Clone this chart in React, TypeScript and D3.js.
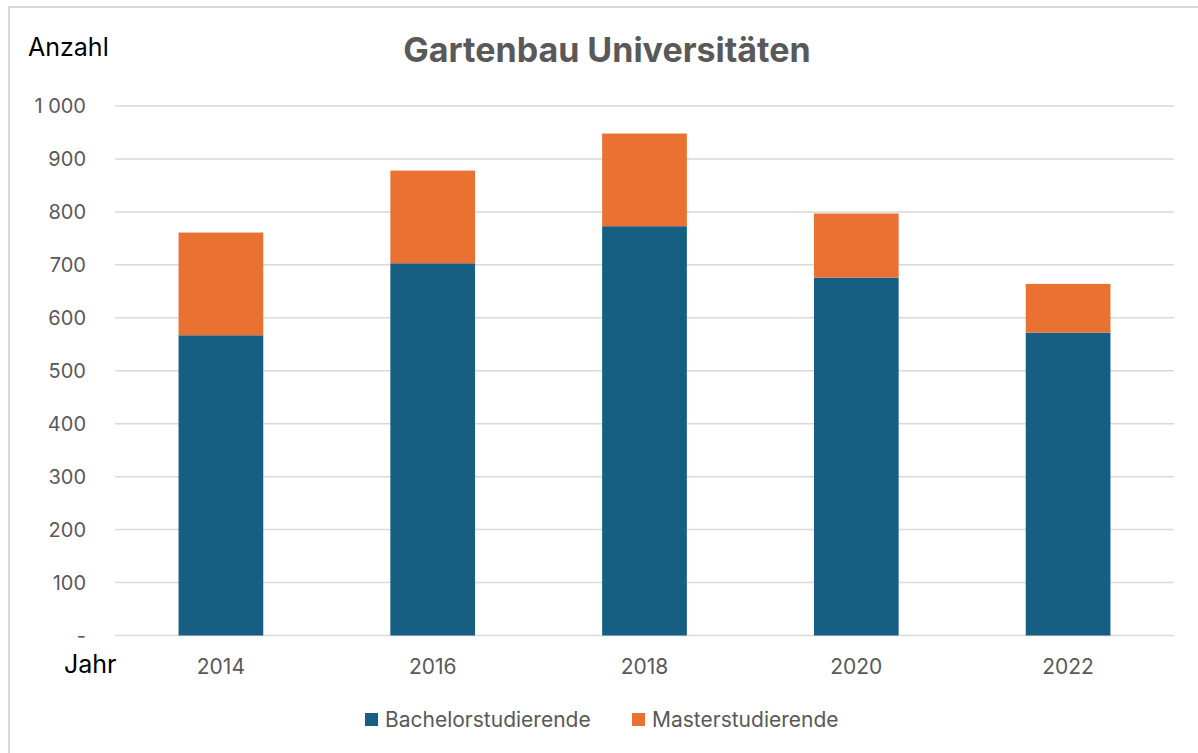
import React from "react";
import * as d3 from "d3";

const years = ["2014", "2016", "2018", "2020", "2022"];
const bachelor = [567, 703, 773, 676, 572];
const master = [194, 175, 175, 121, 92];
const yTicks = [0, 100, 200, 300, 400, 500, 600, 700, 800, 900, 1000];
const seriesNames = ["Bachelorstudierende", "Masterstudierende"];
const colors = ["#175f82", "#e97132"];

const W = 1198;
const H = 753;
const FONT = "Inter, 'Open Sans', sans-serif";

export default function App() {
  const x = d3.scaleBand<string>().domain(years).range([115, 1174]).paddingInner(0.6).paddingOuter(0.3);
  const y = d3.scaleLinear().domain([0, 1000]).range([635.5, 106]);
  const rows = years.map((yr, i) => ({ year: yr, b: bachelor[i], m: master[i] }));
  const stack = d3.stack<any>().keys(["b", "m"])(rows);
  const fmt = (v: number) => (v === 0 ? "-" : d3.format(",")(v).replace(",", " "));

  return (
    <div style={{ position: "fixed", left: 0, top: 0 }}>
      <svg width={W} height={H} style={{ display: "block", background: "#fff" }}>
        <rect x={9} y={7} width={W + 10} height={H + 10} fill="#fff" stroke="#d9d9d9" strokeWidth={2} />
        <text x={607} y={62} textAnchor="middle" fontFamily={FONT} fontWeight={700} fontSize={34} fill="#595959">
          Gartenbau Universitäten
        </text>
        <text x={28} y={56} fontFamily={FONT} fontSize={25} fill="#000">Anzahl</text>
        <text x={64} y={673} fontFamily={FONT} fontSize={25} fill="#000">Jahr</text>
        {yTicks.map((t) => (
          <g key={t}>
            <line x1={115} x2={1174} y1={y(t)} y2={y(t)} stroke="#d9d9d9" strokeWidth={1.5} />
            <text x={86} y={y(t)} dy="0.35em" textAnchor="end" fontFamily={FONT} fontSize={20} fill="#595959">
              {fmt(t)}
            </text>
          </g>
        ))}
        {stack.map((s, si) => (
          <g key={si} fill={colors[si]}>
            {s.map((d: any, i: number) => (
              <rect key={i} x={x(d.data.year)} width={x.bandwidth()} y={y(d[1])} height={y(d[0]) - y(d[1])} />
            ))}
          </g>
        ))}
        {years.map((yr) => (
          <text key={yr} x={(x(yr) as number) + x.bandwidth() / 2} y={674} textAnchor="middle" fontFamily={FONT} fontSize={21} fill="#595959">
            {yr}
          </text>
        ))}
        {seriesNames.map((n, i) => {
          const lx = i === 0 ? 365 : 632;
          return (
            <g key={n}>
              <rect x={lx} y={713} width={13} height={13} fill={colors[i]} />
              <text x={lx + 20} y={727} fontFamily={FONT} fontSize={21} fill="#595959">{n}</text>
            </g>
          );
        })}
      </svg>
    </div>
  );
}
